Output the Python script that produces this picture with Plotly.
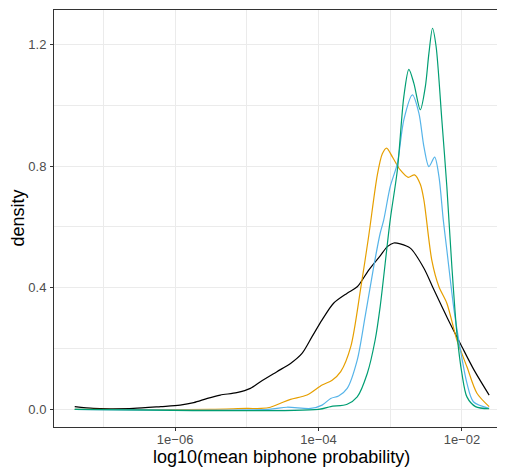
import plotly.graph_objects as go

# log10(mean biphone probability) positions and density values
black_x = [-7.40, -7.14, -6.9, -6.58, -6.2, -5.93, -5.74, -5.55, -5.37, -5.14, -4.95, -4.81,
           -4.58, -4.39, -4.23, -4.09, -3.95, -3.79, -3.60, -3.46, -3.30, -3.14, -3.04, -2.95,
           -2.86, -2.72, -2.53, -2.39, -2.20, -2.0, -1.83, -1.62]
black_y = [0.009, 0.003, 0.002, 0.003, 0.009, 0.014, 0.022, 0.036, 0.047, 0.055, 0.069, 0.091,
           0.124, 0.151, 0.184, 0.239, 0.294, 0.349, 0.382, 0.403, 0.458, 0.505, 0.535, 0.547,
           0.544, 0.530, 0.464, 0.393, 0.299, 0.206, 0.129, 0.047]

orange_x = [-7.40, -5.5, -5.0, -4.8, -4.67, -4.53, -4.39, -4.16, -3.95, -3.81, -3.69, -3.55,
            -3.41, -3.30, -3.18, -3.11, -3.05, -2.97, -2.86, -2.75, -2.66, -2.58, -2.53, -2.42,
            -2.32, -2.21, -2.07, -1.93, -1.79, -1.62]
orange_y = [0.0, 0.0, 0.003, 0.003, 0.007, 0.020, 0.033, 0.047, 0.080, 0.096, 0.124, 0.206,
            0.40, 0.57, 0.77, 0.84, 0.859, 0.83, 0.787, 0.763, 0.771, 0.74, 0.688, 0.491,
            0.403, 0.349, 0.228, 0.140, 0.053, 0.009]

blue_x = [-7.40, -4.7, -4.44, -4.11, -3.95, -3.83, -3.72, -3.60, -3.46, -3.35, -3.23, -3.14,
          -3.09, -3.0, -2.90, -2.81, -2.69, -2.60, -2.53, -2.46, -2.38, -2.32, -2.26, -2.21,
          -2.11, -2.02, -1.93, -1.84, -1.62]
blue_y = [0.0, 0.0, 0.007, 0.003, 0.014, 0.036, 0.044, 0.069, 0.162, 0.305, 0.469, 0.579,
          0.623, 0.732, 0.809, 0.952, 1.034, 0.974, 0.864, 0.798, 0.829, 0.765, 0.623, 0.524,
          0.327, 0.195, 0.086, 0.025, 0.003]

green_x = [-7.40, -4.0, -3.83, -3.60, -3.46, -3.32, -3.21, -3.14, -3.0, -2.90, -2.81, -2.74,
           -2.67, -2.58, -2.51, -2.46, -2.41, -2.36, -2.28, -2.21, -2.14, -2.07, -2.0, -1.93,
           -1.81, -1.62]
green_y = [0.0, 0.0, 0.009, 0.017, 0.041, 0.118, 0.228, 0.338, 0.623, 0.787, 1.028, 1.118,
           1.072, 0.985, 1.061, 1.171, 1.253, 1.193, 0.952, 0.732, 0.469, 0.25, 0.118, 0.041,
           0.009, 0.002]

x_tickvals = [-6, -4, -2]
x_ticktext = ["1e\u221206", "1e\u221204", "1e\u221202"]
x_minor = [-7, -5, -3]
y_tickvals = [0.0, 0.4, 0.8, 1.2]
y_ticktext = ["0.0", "0.4", "0.8", "1.2"]
y_minor = [0.2, 0.6, 1.0]

x_title = "log10(mean biphone probability)"
y_title = "density"

series = [
    (black_x, black_y, "#000000"),
    (orange_x, orange_y, "#E69F00"),
    (blue_x, blue_y, "#56B4E9"),
    (green_x, green_y, "#009E73"),
]

fig = go.Figure()
for xs, ys, col in series:
    fig.add_trace(go.Scatter(x=xs, y=ys, mode="lines",
                             line=dict(color=col, width=1.2, shape="spline", smoothing=0.8),
                             showlegend=False, hoverinfo="skip"))

font = "Liberation Sans, Arial, sans-serif"
# page body has an 8px margin, so the figure is 8px smaller and offset
fig.update_layout(
    width=497, height=459,
    margin=dict(l=46, r=0, t=2, b=40, autoexpand=False),
    paper_bgcolor="white", plot_bgcolor="white",
    font=dict(family=font),
    xaxis=dict(
        range=[-7.689, -1.399], automargin=False,
        tickmode="array", tickvals=x_tickvals, ticktext=x_ticktext,
        tickfont=dict(size=13, color="#4D4D4D"),
        ticks="outside", ticklen=3, tickcolor="#333333", tickwidth=1,
        ticklabelstandoff=-3,
        showgrid=True, gridcolor="#EBEBEB", gridwidth=1.1,
        minor=dict(tickmode="array", tickvals=x_minor, showgrid=True,
                   gridcolor="#EBEBEB", gridwidth=0.6, ticks=""),
        showline=True, linecolor="#333333", linewidth=1, mirror=True,
        zeroline=False,
    ),
    yaxis=dict(
        range=[-0.058, 1.313], automargin=False,
        tickmode="array", tickvals=y_tickvals, ticktext=y_ticktext,
        tickfont=dict(size=13, color="#4D4D4D"),
        ticks="outside", ticklen=3, tickcolor="#333333", tickwidth=1,
        ticklabelstandoff=1,
        showgrid=True, gridcolor="#EBEBEB", gridwidth=1.1,
        minor=dict(tickmode="array", tickvals=y_minor, showgrid=True,
                   gridcolor="#EBEBEB", gridwidth=0.6, ticks=""),
        showline=True, linecolor="#333333", linewidth=1,
        zeroline=False,
    ),
    annotations=[
        dict(text=x_title, xref="paper", yref="paper", x=0.5044, y=-0.073,
             xanchor="center", yanchor="middle", showarrow=False,
             font=dict(size=18, color="black")),
        dict(text=y_title, xref="paper", yref="paper", x=-0.082, y=0.5,
             xanchor="center", yanchor="middle", textangle=-90, showarrow=False,
             font=dict(size=18, color="black")),
    ],
)

fig.write_html("out.html")
